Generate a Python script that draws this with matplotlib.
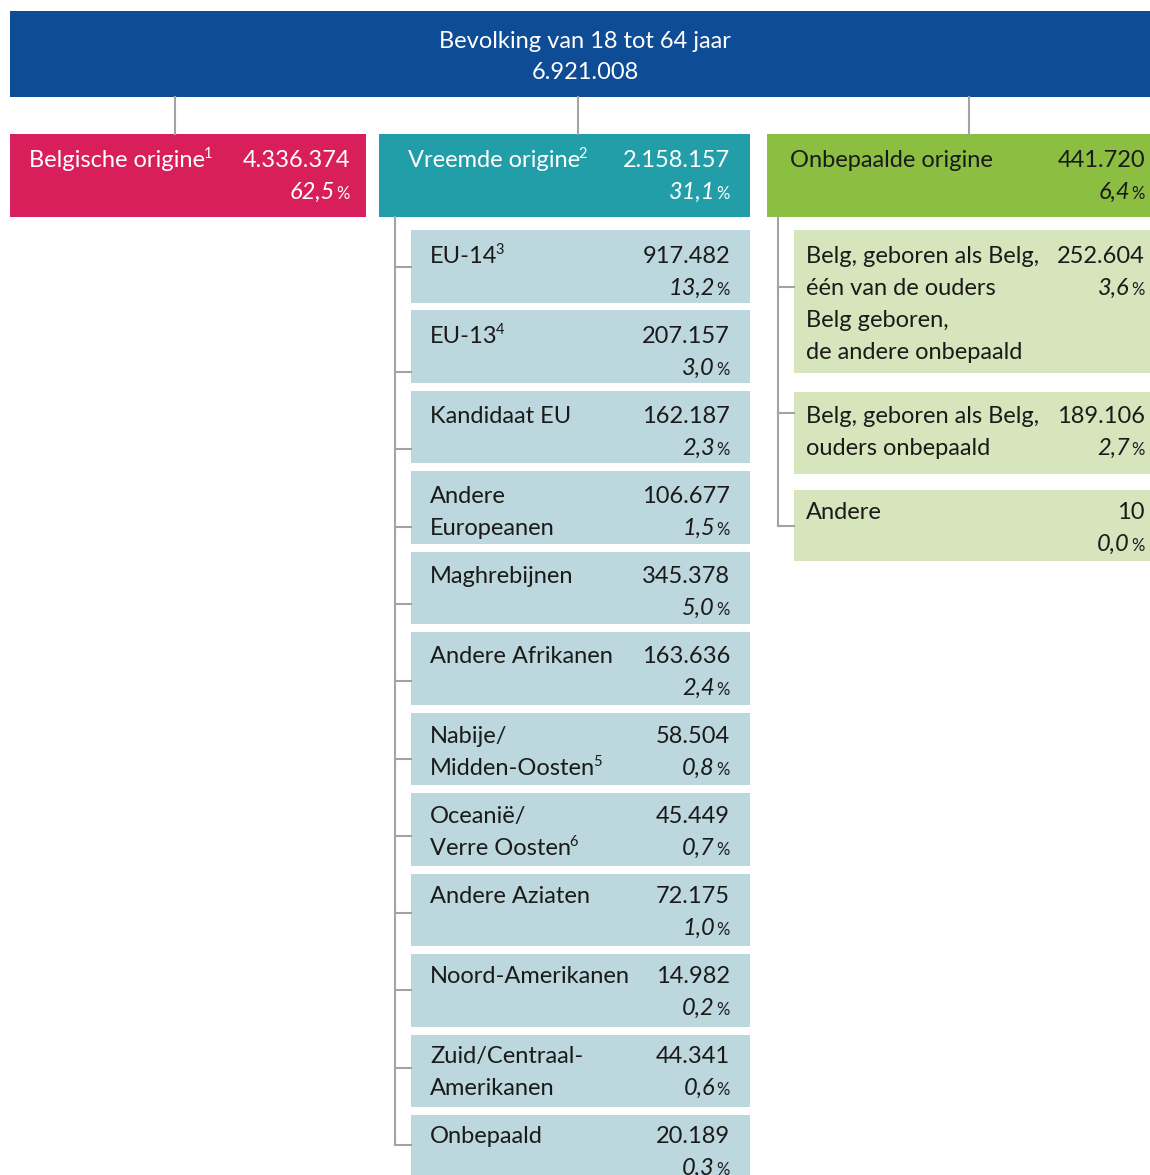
import matplotlib.pyplot as plt
from matplotlib.patches import Rectangle

plt.rcParams['font.family'] = ['Lato', 'DejaVu Sans']

# data
total_label = "Bevolking van 18 tot 64 jaar"
total_count = 6921008

group_labels = ["Belgische origine", "Vreemde origine", "Onbepaalde origine"]
group_notes = ["1", "2", ""]
group_counts = [4336374, 2158157, 441720]
group_pct = [62.5, 31.1, 6.4]

foreign_labels = [["EU-14"], ["EU-13"], ["Kandidaat EU"], ["Andere", "Europeanen"],
                  ["Maghrebijnen"], ["Andere Afrikanen"], ["Nabije/", "Midden-Oosten"],
                  ["Oceanië/", "Verre Oosten"], ["Andere Aziaten"], ["Noord-Amerikanen"],
                  ["Zuid/Centraal-", "Amerikanen"], ["Onbepaald"]]
foreign_notes = ["3", "4", "", "", "", "", "5", "6", "", "", "", ""]
foreign_counts = [917482, 207157, 162187, 106677, 345378, 163636,
                  58504, 45449, 72175, 14982, 44341, 20189]
foreign_pct = [13.2, 3.0, 2.3, 1.5, 5.0, 2.4, 0.8, 0.7, 1.0, 0.2, 0.6, 0.3]

undet_labels = [["Belg, geboren als Belg,", "één van de ouders", "Belg geboren,", "de andere onbepaald"],
                ["Belg, geboren als Belg,", "ouders onbepaald"],
                ["Andere"]]
undet_counts = [252604, 189106, 10]
undet_pct = [3.6, 2.7, 0.0]

# style
C_TOP = '#0f4c96'
C_GROUP = ['#d81f5c', '#229ea9', '#8bbe41']
C_FOREIGN = '#bdd7de'
C_UNDET = '#d7e5bc'
C_LINE = '#a3a3a3'
INK = '#1a1a1a'
FS = 17
LINE_H = 32


def fmt_count(n):
    return f"{n:,}".replace(',', '.')


def fmt_pct(p):
    return f"{p:.1f}".replace('.', ',')


def box(x0, y0, x1, y1, color):
    ax.add_patch(Rectangle((x0, y0), x1 - x0, y1 - y0, facecolor=color, lw=0))


def entry(xl, xr, top, lines, note, count, pct, color):
    last = None
    for i, line in enumerate(lines):
        last = ax.text(xl, top + 33 + LINE_H * i, line, fontsize=FS, color=color, va='baseline')
    if note:
        # superscript footnote number right after the last label line
        ax.annotate(note, xy=(1, 0), xycoords=last, xytext=(-1.2, 9.5), textcoords='offset points',
                    fontsize=10.5, color=color, va='baseline', ha='left')
    ax.text(xr, top + 33, fmt_count(count), fontsize=FS, color=color, ha='right', va='baseline')
    ax.text(xr - 15, top + 33 + LINE_H, fmt_pct(pct), fontsize=FS, color=color,
            ha='right', va='baseline', style='italic')
    ax.text(xr, top + 33 + LINE_H, '%', fontsize=12, color=color, ha='right', va='baseline')


fig = plt.figure(figsize=(11.5, 11.75), dpi=100)
ax = fig.add_axes([0, 0, 1, 1])
ax.set_xlim(0, 1150)
ax.set_ylim(1175, 0)
ax.axis('off')

# top box
box(10, 11, 1150, 97, C_TOP)
ax.text(585, 48, total_label, fontsize=FS, color='white', ha='center', va='baseline')
ax.text(585, 79, fmt_count(total_count), fontsize=FS, color='white', ha='center', va='baseline')

# group boxes
gx = [(10, 366), (379, 750), (767, 1150)]
text_x = [(29, 350), (408, 730), (790, 1145)]
stem_x = [175, 578, 969]
for i in range(3):
    ax.plot([stem_x[i], stem_x[i]], [97, 134], color=C_LINE, lw=1.5)
    box(gx[i][0], 134, gx[i][1], 217, C_GROUP[i])
    col = 'white' if i < 2 else INK
    entry(text_x[i][0], text_x[i][1], 134, [group_labels[i]], group_notes[i],
          group_counts[i], group_pct[i], col)

# foreign origin breakdown
ax.plot([395, 395], [217, 1145], color=C_LINE, lw=1.5)
for i in range(len(foreign_labels)):
    top = 230 + i * 80.45
    tick = 267 if i == 0 else 372 + (i - 1) * 77.3
    ax.plot([395, 411], [tick, tick], color=C_LINE, lw=1.5)
    box(411, top, 750, top + 72.5, C_FOREIGN)
    entry(430, 730, 230 + i * 80, foreign_labels[i], foreign_notes[i],
          foreign_counts[i], foreign_pct[i], INK)

# undetermined origin breakdown
u_tops = [230, 392, 490]
u_bottoms = [373, 474, 561]
u_text = [230, 390, 486]
u_ticks = [287, 413, 526]
ax.plot([778, 778], [217, 526], color=C_LINE, lw=1.5)
for i in range(len(undet_labels)):
    ax.plot([778, 794], [u_ticks[i], u_ticks[i]], color=C_LINE, lw=1.5)
    box(794, u_tops[i], 1150, u_bottoms[i], C_UNDET)
    entry(806, 1145, u_text[i], undet_labels[i], "", undet_counts[i], undet_pct[i], INK)

fig.savefig('out.png', dpi=100)
